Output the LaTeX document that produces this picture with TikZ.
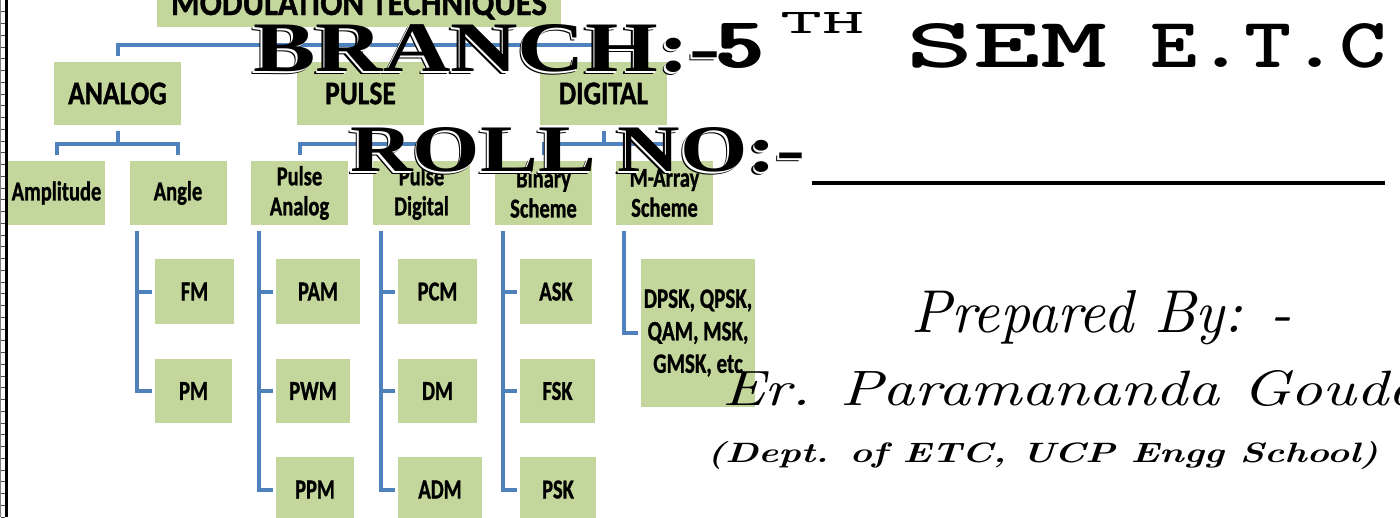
\documentclass[tikz,border=0pt]{standalone}
\usepackage{fontspec}
\usepackage{graphicx}
\newfontfamily\boxfont{Carlito}[BoldFeatures={FakeBold=1.2}]
\newfontfamily\serifb{Liberation Serif}
\definecolor{boxgreen}{RGB}{195,214,155}
\definecolor{connblue}{RGB}{79,129,189}
\newcommand\algtext[1]{\makebox[0pt][l]{\raisebox{-2.6pt}{\hspace{-2.6pt}\color{black}#1}}\makebox[0pt][l]{\raisebox{-1.3pt}{\hspace{-1.3pt}\color{white}#1}}#1}
\newcommand\tallt[1]{\scalebox{1}[1.33]{#1}}
\newcommand\tallh[1]{\scalebox{1}[1.2]{#1}}
\tikzset{
  gbox/.style={fill=boxgreen, inner sep=0pt, align=center, font=\boxfont\bfseries\fontsize{20.5}{30}\selectfont},
  topbox/.style={gbox, minimum width=127pt, minimum height=63pt, font=\boxfont\bfseries\fontsize{27.5}{30}\selectfont},
  midbox/.style={gbox, minimum width=97pt, minimum height=64pt},
  conn/.style={draw=connblue, line width=4pt, line join=miter},
  over/.style={inner sep=0pt, anchor=base west},
}
\begin{document}
\begin{tikzpicture}[x=1pt,y=-1pt]
\useasboundingbox (0,0) rectangle (1400,517);
\clip (0,0) rectangle (1400,517);
% left page border
\draw[gray, line width=1pt] (0.5,0) -- (0.5,517);
\foreach \k in {1,...,44} \draw[gray!60!black, line width=0.8pt] (0.5,\k*11.75) -- (5,\k*11.75);
\fill[black] (5,0) rectangle (8,517);

% boxes
\node[gbox, minimum width=404pt, minimum height=49pt] (top) at (359,2.5) {};
\node[inner sep=0pt, anchor=base] (toptext) at (359,15) {\boxfont\bfseries\resizebox{376pt}{24pt}{MODULATION TECHNIQUES}};

\node[topbox] (analog)  at (117.5,93.5) {\tallh{ANALOG}};
\node[topbox] (pulse)   at (360.5,93.5) {\tallh{PULSE}};
\node[topbox] (digital) at (603.5,93.5) {\tallh{DIGITAL}};

\node[midbox] (amplitude) at (56.5,193)  {\tallt{Amplitude}};
\node[midbox] (angle)     at (178,193)   {\tallt{Angle}};
\node[midbox] (panalog)   at (299.5,193) {\tallt{Pulse}\\\tallt{Analog}};
\node[midbox] (pdigital)  at (421.5,193) {\tallt{Pulse}\\\tallt{Digital}};
\node[midbox] (binary)    at (543.5,193) {\tallt{Binary}\\\tallt{Scheme}};
\node[midbox] (marray)    at (664.5,193) {\tallt{M-Array}\\\tallt{Scheme}};

\node[gbox, minimum width=79pt, minimum height=65pt] (fm)  at (194.5,291.5) {\tallt{FM}};
\node[gbox, minimum width=77pt, minimum height=64pt] (pm)  at (193.5,391)   {\tallt{PM}};
\node[gbox, minimum width=84pt, minimum height=65pt] (pam) at (318,291.5)   {\tallt{PAM}};
\node[gbox, minimum width=74pt, minimum height=64pt] (pwm) at (313,391)     {\tallt{PWM}};
\node[gbox, minimum width=78pt, minimum height=65pt] (ppm) at (315,489.5)   {\tallt{PPM}};
\node[gbox, minimum width=79pt, minimum height=65pt] (pcm) at (437.5,291.5) {\tallt{PCM}};
\node[gbox, minimum width=79pt, minimum height=64pt] (dm)  at (437.5,391)   {\tallt{DM}};
\node[gbox, minimum width=84pt, minimum height=65pt] (adm) at (440,489.5)   {\tallt{ADM}};
\node[gbox, minimum width=72pt, minimum height=65pt] (ask) at (556,291.5)   {\tallt{ASK}};
\node[gbox, minimum width=75pt, minimum height=64pt] (fsk) at (557.5,391)   {\tallt{FSK}};
\node[gbox, minimum width=76pt, minimum height=65pt] (psk) at (558,489.5)   {\tallt{PSK}};
\node[gbox, minimum width=114pt, minimum height=148pt, font=\boxfont\bfseries\fontsize{21}{32.5}\selectfont] (dpsk) at (698,333) {\tallt{DPSK, QPSK,}\\\tallt{QAM, MSK,}\\\tallt{GMSK, etc}};

% connectors: level 0 -> 1
\coordinate (tbus) at (359,44.5);
\draw[conn] ([yshift=-6pt]top.south) -- (tbus);
\draw[conn] ([yshift=6pt]analog.north) |- (tbus) -| ([yshift=6pt]digital.north);
\draw[conn] (tbus -| pulse.north) -- ([yshift=6pt]pulse.north);
% level 1 -> 2
\coordinate (abus) at (117.5,143.5);
\draw[conn] ([yshift=-6pt]analog.south) -- (abus);
\draw[conn] ([yshift=6pt]amplitude.north) |- (abus) -| ([yshift=6pt]angle.north);
\coordinate (pbus) at (360.5,143.5);
\draw[conn] ([yshift=-6pt]pulse.south) -- (pbus);
\draw[conn] ([yshift=6pt]panalog.north) |- (pbus) -| ([yshift=6pt]pdigital.north);
\coordinate (dbus) at (603.5,143.5);
\draw[conn] ([yshift=-6pt]digital.south) -- (dbus);
\draw[conn] ([yshift=6pt]binary.north) |- (dbus) -| ([yshift=6pt]marray.north);
% level 2 -> 3
\draw[conn] ([shift={(8,6)}]angle.south west) |- ([xshift=-3pt]pm.west);
\draw[conn] ([shift={(8,6)}]angle.south west) |- ([xshift=-3pt]fm.west);
\draw[conn] ([shift={(8,6)}]panalog.south west) |- ([xshift=-3pt]ppm.west);
\draw[conn] ([shift={(8,6)}]panalog.south west) |- ([xshift=-3pt]pam.west);
\draw[conn] ([shift={(8,6)}]panalog.south west) |- ([xshift=-3pt]pwm.west);
\draw[conn] ([shift={(8,6)}]pdigital.south west) |- ([xshift=-3pt]adm.west);
\draw[conn] ([shift={(8,6)}]pdigital.south west) |- ([xshift=-3pt]pcm.west);
\draw[conn] ([shift={(8,6)}]pdigital.south west) |- ([xshift=-3pt]dm.west);
\draw[conn] ([shift={(8,6)}]binary.south west) |- ([xshift=-3pt]psk.west);
\draw[conn] ([shift={(8,6)}]binary.south west) |- ([xshift=-3pt]ask.west);
\draw[conn] ([shift={(8,6)}]binary.south west) |- ([xshift=-3pt]fsk.west);
\draw[conn] ([shift={(8,6)}]marray.south west) |- ([xshift=-3pt]dpsk.west);

% overlay texts
\node[over] (branch) at (253,71.7) {\algtext{\resizebox{467pt}{47pt}{\serifb\bfseries BRANCH:-}}};
\node[over] (five) at (714,67) {\resizebox{46pt}{44pt}{\ttfamily\bfseries\makebox[0pt][l]{\hspace{0.06em}5}\makebox[0pt][l]{\hspace{0.03em}5}5}};
\node[over] (th) at (780,33) {\resizebox{84pt}{21pt}{\ttfamily TH}};
\node[over] (sem) at (906,67) {\resizebox{202pt}{44pt}{\ttfamily\bfseries SEM}};
\node[over] (etc) at (1150,67) {\resizebox{236pt}{44pt}{\ttfamily\bfseries E.T.C}};

\node[over] (roll) at (350,171.7) {\algtext{\resizebox{455pt}{44pt}{\serifb\bfseries ROLL NO:-}}};
\coordinate (ul1) at (812,183);
\coordinate (ul2) at (1385,183);
\draw[line width=4pt] (ul1) -- (ul2);

\node[over] (prep) at (911,332) {\resizebox{380pt}{42pt}{\itshape Prepared By: -}};
\node[over] (name) at (722,405) {\resizebox{698pt}{35pt}{\itshape Er. Paramananda Gouda}};
\node[over] (dept) at (707,462) {\resizebox{671pt}{21pt}{\bfseries\itshape (Dept. of ETC, UCP Engg School)}};
\end{tikzpicture}
\end{document}
